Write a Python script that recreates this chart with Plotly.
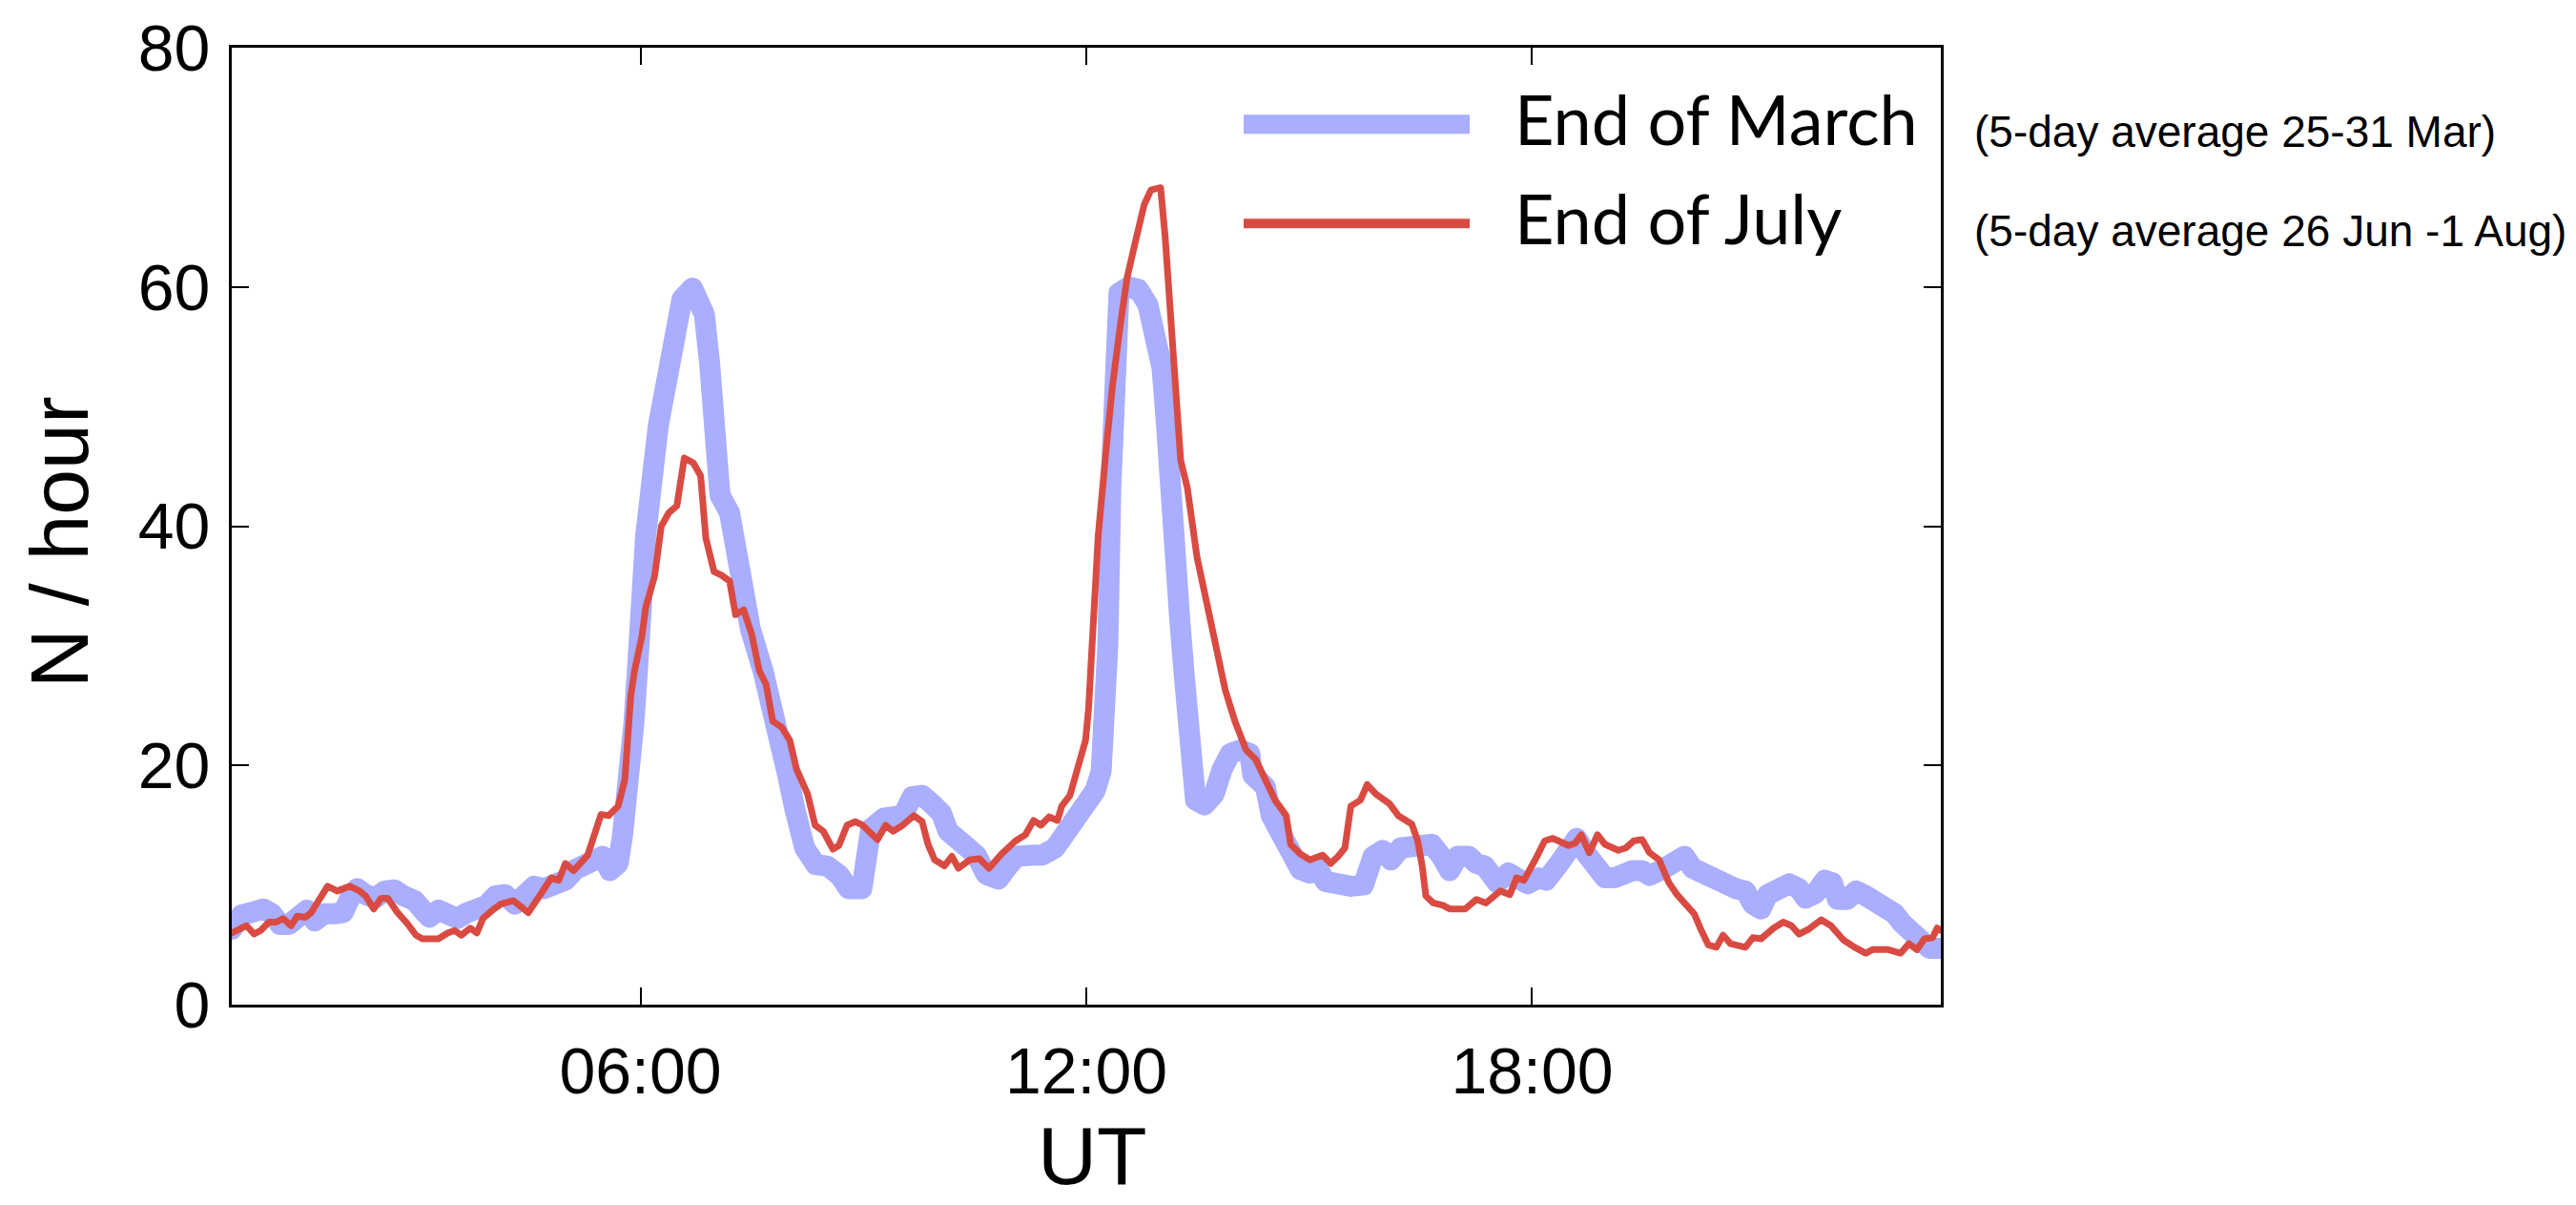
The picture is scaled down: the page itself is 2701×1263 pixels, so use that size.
import plotly.graph_objects as go

# Hourly rate of events versus universal time (hours), two 5-day averages
march_hours = [0.50, 0.63, 0.76, 0.93, 1.04, 1.15, 1.27, 1.40, 1.51, 1.62, 1.74, 1.87, 2.00, 2.09,
               2.19, 2.30, 2.43, 2.56, 2.69, 2.81, 2.96, 3.07, 3.16, 3.28, 3.41, 3.54, 3.67, 3.80,
               3.93, 4.05, 4.18, 4.31, 4.44, 4.57, 4.70, 4.87, 4.99, 5.12, 5.25, 5.38, 5.49, 5.59,
               5.70, 5.76, 5.85, 5.91, 5.96, 6.07, 6.24, 6.38, 6.56, 6.70, 6.86, 6.93, 6.99, 7.07,
               7.20, 7.31, 7.48, 7.65, 7.82, 7.97, 8.08, 8.21, 8.36, 8.51, 8.68, 8.80, 8.98, 9.02,
               9.10, 9.28, 9.42, 9.53, 9.66, 9.79, 9.92, 10.05, 10.14, 10.31, 10.52, 10.65, 10.82,
               10.95, 11.07, 11.29, 11.41, 11.58, 11.71, 11.80, 11.97, 12.12, 12.20, 12.25, 12.29,
               12.33, 12.38, 12.44, 12.57, 12.70, 12.83, 12.93, 13.02, 13.08, 13.12, 13.19, 13.26,
               13.32, 13.38, 13.47, 13.59, 13.72, 13.83, 13.94, 14.07, 14.20, 14.24, 14.41, 14.49,
               14.62, 14.75, 14.88, 15.01, 15.11, 15.22, 15.39, 15.56, 15.73, 15.86, 15.99, 16.10,
               16.23, 16.38, 16.55, 16.65, 16.78, 16.89, 17.00, 17.15, 17.25, 17.36, 17.53, 17.68,
               17.79, 17.94, 18.09, 18.19, 18.34, 18.47, 18.60, 18.73, 18.86, 18.98, 19.11, 19.24,
               19.35, 19.48, 19.58, 19.75, 19.88, 20.05, 20.16, 20.31, 20.44, 20.57, 20.74, 20.87,
               20.97, 21.08, 21.17, 21.29, 21.46, 21.59, 21.68, 21.81, 21.94, 22.04, 22.11, 22.24,
               22.36, 22.49, 22.66, 22.77, 22.88, 22.98, 23.13, 23.26, 23.35, 23.50]
march_rate = [6.3, 7.5, 7.7, 8.0, 7.6, 6.7, 6.7, 7.3, 7.9, 7.0, 7.6, 7.6, 7.7, 8.9,
              9.7, 9.2, 8.9, 9.5, 9.6, 9.1, 8.7, 7.9, 7.3, 7.9, 7.6, 7.2, 7.7, 8.0,
              8.3, 9.1, 9.2, 8.4, 8.9, 9.9, 9.7, 10.1, 10.4, 11.3, 11.6, 11.8, 12.4, 11.2,
              11.8, 14.2, 18.2, 23.4, 28.0, 39.2, 48.4, 54.2, 59.0, 59.9, 57.7, 53.7, 48.4, 42.6,
              41.1, 36.6, 31.4, 27.9, 24.2, 19.5, 16.3, 13.1, 11.7, 11.6, 10.8, 9.7, 9.7, 12.6,
              14.7, 15.6, 15.5, 15.8, 17.4, 17.5, 16.8, 16.0, 14.5, 13.4, 12.5, 10.9, 10.5,
              11.6, 12.4, 12.5, 12.5, 13.1, 14.2, 15.3, 16.0, 17.9, 19.5, 23.4, 30.0,
              43.2, 53.7, 59.5, 60.0, 59.8, 58.5, 56.4, 53.2, 48.4, 43.2, 36.6, 32.0,
              27.4, 20.0, 17.1, 16.7, 17.6, 19.7, 21.0, 21.3, 21.0, 19.2, 18.2, 15.8,
              14.5, 12.6, 11.3, 11.0, 11.4, 10.3, 10.0, 9.9, 10.0, 12.4, 12.9, 12.1,
              13.1, 13.3, 13.5, 13.4, 12.4, 11.2, 12.4, 12.4, 11.8, 11.6, 10.2, 11.0,
              10.6, 10.1, 10.6, 10.4, 11.6, 13.1, 13.9, 12.6, 11.6, 10.6, 10.6, 11.0,
              11.2, 11.2, 10.8, 11.3, 11.8, 12.4, 11.4, 10.8, 10.2, 10.2, 9.7, 9.5,
              8.4, 8.0, 9.2, 9.5, 10.1, 9.7, 8.9, 9.3, 10.4, 10.2, 8.8, 8.8,
              9.5, 9.1, 8.4, 8.3, 7.6, 6.8, 6.0, 5.2, 4.7, 4.7]

july_hours = [0.50, 0.70, 0.80, 0.89, 1.00, 1.10, 1.19, 1.30, 1.38, 1.49, 1.57, 1.68, 1.79, 1.92,
              2.09, 2.22, 2.30, 2.41, 2.51, 2.60, 2.73, 2.86, 2.98, 3.07, 3.28, 3.41, 3.50, 3.59,
              3.71, 3.80, 3.88, 4.01, 4.12, 4.29, 4.40, 4.49, 4.61, 4.80, 4.90, 4.99, 5.10, 5.29,
              5.47, 5.57, 5.70, 5.79, 5.87, 5.92, 6.02, 6.07, 6.19, 6.28, 6.38, 6.49, 6.59, 6.71,
              6.81, 6.88, 6.99, 7.09, 7.20, 7.28, 7.39, 7.50, 7.60, 7.69, 7.78, 7.90, 8.01, 8.10,
              8.25, 8.35, 8.46, 8.59, 8.67, 8.78, 8.89, 8.99, 9.19, 9.30, 9.40, 9.53, 9.68, 9.79,
              9.87, 9.96, 10.09, 10.19, 10.28, 10.43, 10.56, 10.69, 10.86, 11.05, 11.18, 11.29,
              11.39, 11.50, 11.61, 11.67, 11.78, 11.88, 11.99, 12.03, 12.08, 12.12, 12.16, 12.27,
              12.35, 12.46, 12.55, 12.65, 12.72, 12.78, 12.87, 13.00, 13.06, 13.12, 13.19, 13.23,
              13.27, 13.36, 13.42, 13.49, 13.59, 13.70, 13.77, 13.87, 14.00, 14.15, 14.28, 14.41,
              14.54, 14.69, 14.75, 14.88, 15.01, 15.18, 15.29, 15.39, 15.48, 15.56, 15.69, 15.78,
              15.90, 16.08, 16.20, 16.38, 16.46, 16.52, 16.57, 16.67, 16.80, 16.89, 17.10, 17.25,
              17.38, 17.57, 17.70, 17.79, 17.89, 18.04, 18.17, 18.28, 18.49, 18.58, 18.66, 18.77,
              18.88, 18.98, 19.16, 19.26, 19.37, 19.48, 19.58, 19.71, 19.84, 19.95, 20.05, 20.18,
              20.27, 20.37, 20.48, 20.57, 20.67, 20.87, 20.97, 21.08, 21.25, 21.38, 21.49, 21.59,
              21.72, 21.89, 22.02, 22.19, 22.34, 22.49, 22.58, 22.79, 22.96, 23.07, 23.18, 23.28,
              23.39, 23.45, 23.50]
july_rate = [6.0, 6.6, 5.9, 6.2, 6.9, 6.9, 7.2, 6.6, 7.4, 7.3, 7.7, 8.8, 9.9, 9.5,
             9.9, 9.5, 9.1, 8.0, 8.9, 8.9, 7.7, 6.8, 5.8, 5.5, 5.5, 6.0, 6.2, 5.8,
             6.4, 6.0, 7.2, 7.9, 8.4, 8.7, 8.2, 7.7, 8.8, 10.6, 10.4, 11.8, 11.2, 12.5,
             15.9, 15.8, 16.6, 18.8, 25.8, 27.9, 30.8, 33.2, 35.8, 40.0, 41.1, 41.7, 45.7, 45.3,
             44.2, 39.0, 36.2, 35.9, 35.4, 32.6, 33.0, 30.9, 27.9, 26.8, 23.7, 23.2, 22.1, 19.7,
             17.6, 15.0, 14.5, 13.0, 13.3, 15.0, 15.3, 15.0, 13.8, 15.0, 14.5, 15.0, 15.8, 15.3,
             13.4, 12.1, 11.6, 12.4, 11.4, 12.1, 12.2, 11.4, 12.6, 13.7, 14.2, 15.4,
             15.0, 15.7, 15.4, 16.6, 17.5, 19.7, 22.1, 24.7, 29.5, 34.0, 39.2, 46.6,
             51.6, 56.9, 60.8, 63.5, 65.3, 66.9, 68.1, 68.3, 64.3, 59.0, 52.4, 48.4,
             45.5, 43.2, 40.5, 37.4, 34.5, 31.1, 29.2, 26.3, 23.7, 21.3, 20.5, 18.7,
             17.1, 15.8, 13.4, 12.6, 12.1, 12.5, 11.8, 12.4, 13.1, 16.6, 17.1, 18.4,
             17.6, 16.8, 15.8, 15.1, 13.7, 11.6, 9.1, 8.5, 8.3, 8.0, 8.0, 8.8,
             8.5, 9.5, 9.2, 10.6, 10.4, 12.1, 13.7, 13.9, 13.3, 13.5, 14.2, 12.7,
             14.2, 13.4, 12.9, 13.1, 13.7, 13.8, 12.7, 12.1, 10.2, 9.2, 8.5, 7.6,
             6.3, 5.0, 4.8, 5.8, 5.1, 4.8, 5.6, 5.5, 6.4, 6.9, 6.6, 5.9,
             6.3, 7.1, 6.6, 5.4, 4.8, 4.3, 4.6, 4.6, 4.3, 5.1, 4.6, 5.5,
             5.6, 6.4, 6.2]

tick_hours = [6, 12, 18]
tick_labels = ["06:00", "12:00", "18:00"]
series_names = ["End of March", "End of July"]
series_notes = ["(5-day average 25-31 Mar)", "(5-day average 26 Jun -1 Aug)"]

BLUE = "#AAAEFF"
RED = "#D94B42"

W, H = 2701, 1263
L, R, T, B = 243, 2035, 41, 1053  # plot frame in pixels


def px_x(p):
    return (p - L) / (R - L)


def px_y(p):
    return (B - p) / (B - T)


fig = go.Figure()
fig.add_trace(go.Scatter(x=march_hours, y=march_rate, mode="lines", name=series_names[0],
                         line=dict(color=BLUE, width=22), showlegend=False, hoverinfo="skip"))
fig.add_trace(go.Scatter(x=july_hours, y=july_rate, mode="lines", name=series_names[1],
                         line=dict(color=RED, width=7), showlegend=False, hoverinfo="skip"))

tick_font = dict(family="Liberation Sans, Arial, sans-serif", size=68, color="black")
axis_common = dict(showline=True, linecolor="black", linewidth=3, mirror="ticks",
                   ticks="inside", ticklen=18, tickwidth=2, tickcolor="black",
                   showgrid=False, zeroline=False, tickfont=tick_font)

fig.update_xaxes(range=[0.5, 23.5], tickvals=tick_hours, ticktext=tick_labels,
                 ticklabelstandoff=8, **axis_common)
fig.update_yaxes(range=[0, 80], tickvals=[0, 20, 40, 60, 80], ticklabelstandoff=6, **axis_common)

# legend drawn by hand: long thick samples, labels and notes
legend_rows = [(122, BLUE, 20), (227, RED, 10)]
shapes = []
annotations = []
for (cy, col, lw), name, note in zip(legend_rows, series_names, series_notes):
    shapes.append(dict(type="line", xref="paper", yref="paper",
                       x0=px_x(1304), x1=px_x(1541), y0=px_y(cy), y1=px_y(cy),
                       line=dict(color=col, width=lw)))
    annotations.append(dict(xref="paper", yref="paper", x=px_x(1586), y=px_y(cy - 6),
                            xanchor="left", yanchor="middle", showarrow=False, text=name,
                            font=dict(family="Lato, sans-serif", size=72, color="black")))
    annotations.append(dict(xref="paper", yref="paper", x=px_x(2068), y=px_y(cy + 8),
                            xanchor="left", yanchor="middle", showarrow=False, text=note,
                            font=dict(family="Liberation Sans, Arial, sans-serif",
                                      size=46, color="black")))

title_font = dict(family="Liberation Sans, Arial, sans-serif", size=86, color="black")
annotations.append(dict(xref="paper", yref="paper", x=px_x(62), y=px_y(564),
                        xanchor="center", yanchor="middle", textangle=-90, showarrow=False,
                        text="N / hour", font=title_font))
annotations.append(dict(xref="paper", yref="paper", x=px_x(1145), y=px_y(1212),
                        xanchor="center", yanchor="middle", showarrow=False,
                        text="UT", font=dict(title_font, size=86)))

fig.update_layout(width=W, height=H, autosize=False,
                  margin=dict(l=L, r=W - R, t=T, b=H - B, pad=0),
                  paper_bgcolor="white", plot_bgcolor="white",
                  shapes=shapes, annotations=annotations, showlegend=False)

page_fix = ("document.body.style.margin='0';"
            "document.querySelectorAll('.scatterlayer path.js-line').forEach(function(p){"
            "p.style.strokeLinejoin='round';p.style.strokeLinecap='round';});")
fig.write_html("out.html", post_script=page_fix,
               config={"displayModeBar": False, "staticPlot": True})
